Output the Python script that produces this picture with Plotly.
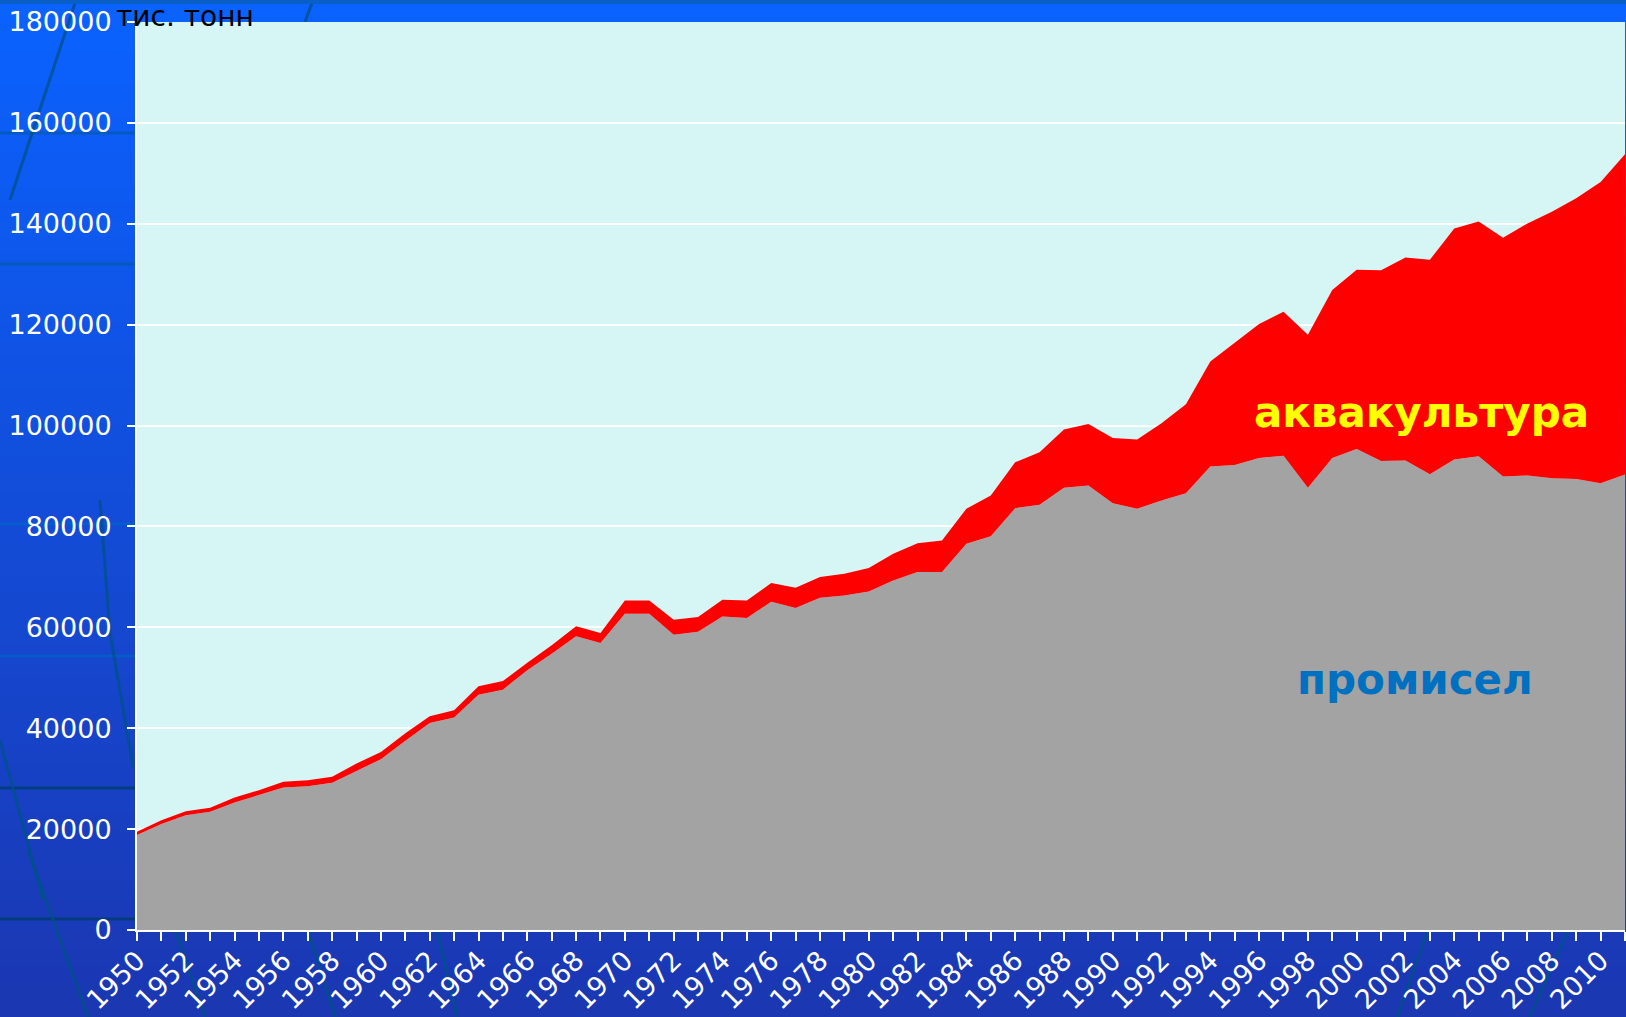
import plotly.graph_objects as go

years = list(range(1950, 2012))
capture = [18810, 20990, 22770, 23430, 25280, 26730, 28250, 28510, 29170, 31540,
           33860, 37500, 41050, 42110, 46660, 47650, 51480, 54780, 58210, 56890,
           62700, 62700, 58540, 59140, 62170, 61840, 65070, 63820, 65870, 66330,
           67120, 69300, 70980, 70950, 76560, 78080, 83620, 84280, 87650, 88110,
           84610, 83490, 85140, 86600, 91870, 92200, 93590, 93990, 87650, 93590,
           95370, 92990, 93060, 90350, 93260, 93920, 89890, 90090, 89560, 89430,
           88570, 90290]
aquaculture = [650, 790, 790, 790, 990, 990, 1120, 1190, 1190, 1460,
               1450, 1500, 1320, 1450, 1650, 1720, 1520, 1650, 1980, 1980,
               2640, 2640, 2970, 2900, 3290, 3500, 3700, 4030, 4090, 4290,
               4620, 5290, 5700, 6270, 6930, 8050, 9110, 10430, 11550, 12210,
               12940, 13730, 15310, 17600, 20850, 24290, 26530, 28570, 30360, 33260,
               35510, 37820, 40250, 42510, 45800, 46530, 47320, 49960, 52800, 55640,
               59730, 63500]
y_ticks = [0, 20000, 40000, 60000, 80000, 100000, 120000, 140000, 160000, 180000]
unit_label = "тис. тонн"
label_aqua = "аквакультура"
label_capture = "промисел"

W, H = 1626, 1017
L, R, T, B = 137, 1, 22, 87
PW, PH = W - L - R, H - T - B

def px(x):
    return (x - L) / PW

def py(y):
    return (H - B - y) / PH

fig = go.Figure()
fig.add_trace(go.Scatter(x=years, y=capture, stackgroup="s", mode="lines",
                         line=dict(width=0, color="#A3A3A3"), fillcolor="#A3A3A3",
                         name=label_capture))
fig.add_trace(go.Scatter(x=years, y=aquaculture, stackgroup="s", mode="lines",
                         line=dict(width=0, color="#FF0000"), fillcolor="#FF0000",
                         name=label_aqua))

shapes = []
# background gradient
n = 60
top = (10, 98, 255)
bot = (27, 55, 178)
for i in range(n):
    t = i / (n - 1)
    c = tuple(int(round(top[k] + (bot[k] - top[k]) * t)) for k in range(3))
    y0 = H * i / n
    y1 = H * (i + 1) / n + 1
    shapes.append(dict(type="rect", xref="paper", yref="paper",
                       x0=px(0), x1=px(W), y0=py(y1), y1=py(y0),
                       fillcolor="rgb(%d,%d,%d)" % c, line=dict(width=0), layer="below"))
# decorative globe lines
deco = "rgba(0,80,140,0.8)"
for yy, col in [(133, "rgba(0,90,170,0.7)"), (264, "rgba(0,90,170,0.7)"), (524, "rgba(0,100,200,0.7)"),
                (656, "rgba(0,100,200,0.7)"), (788, "rgba(0,60,110,0.8)"), (919, "rgba(0,60,110,0.8)")]:
    shapes.append(dict(type="line", xref="paper", yref="paper", x0=px(0), x1=px(L),
                       y0=py(yy), y1=py(yy), line=dict(color=col, width=3), layer="below"))
for (x0, y0, x1, y1) in [(28, 850, 88, 1017), (175, 930, 205, 1017), (308, 930, 335, 1017),
                         (437, 930, 457, 1017), (1428, 930, 1397, 1017), (1568, 930, 1530, 1017),
                         (75, 3, 10, 200), (313, 0, 305, 22), (100, 500, 110, 633),
                         (110, 633, 133, 767), (0, 740, 43, 900)]:
    shapes.append(dict(type="line", xref="paper", yref="paper", x0=px(x0), x1=px(x1),
                       y0=py(y0), y1=py(y1), line=dict(color=deco, width=3), layer="below"))
shapes.append(dict(type="rect", xref="paper", yref="paper", x0=px(0), x1=px(W),
                   y0=py(4), y1=py(0), fillcolor="#0A5EC8", line=dict(width=0), layer="below"))
# plot area background
shapes.append(dict(type="rect", xref="paper", yref="paper", x0=0, x1=1, y0=0, y1=1,
                   fillcolor="#D6F5F5", line=dict(width=0), layer="below"))

annotations = [
    dict(text=unit_label, xref="paper", yref="paper", x=px(114), y=py(16),
         xanchor="left", yanchor="middle", showarrow=False,
         font=dict(family="DejaVu Sans", size=28, color="black")),
    dict(text="<b>%s</b>" % label_aqua, xref="paper", yref="paper", x=px(1421), y=py(413),
         xanchor="center", yanchor="middle", showarrow=False,
         font=dict(family="DejaVu Sans", size=42, color="#FFFF00")),
    dict(text="<b>%s</b>" % label_capture, xref="paper", yref="paper", x=px(1415), y=py(679),
         xanchor="center", yanchor="middle", showarrow=False,
         font=dict(family="DejaVu Sans", size=42, color="#0070C0")),
]

fig.update_layout(
    width=W, height=H,
    margin=dict(l=L, r=R, t=T, b=B, pad=0, autoexpand=False),
    paper_bgcolor="rgb(20,75,215)",
    plot_bgcolor="#D6F5F5",
    showlegend=False,
    shapes=shapes,
    annotations=annotations,
    font=dict(family="DejaVu Sans", color="white", size=25),
)
fig.update_xaxes(range=[1950, 2011], tick0=1950, dtick=2, tickangle=-45,
                 ticks="outside", ticklen=9, tickwidth=2, tickcolor="white",
                 minor=dict(dtick=1, ticks="outside", ticklen=9, tickwidth=2, tickcolor="white"),
                 showline=True, linecolor="white", linewidth=2, showgrid=False,
                 zeroline=False, tickfont=dict(size=27, color="white"),
                 ticklabelstandoff=-7, automargin=False)
fig.update_yaxes(range=[0, 180000], tickvals=y_ticks, tickformat="d",
                 ticks="outside", ticklen=8, tickwidth=2, tickcolor="white",
                 showline=True, linecolor="white", linewidth=2,
                 showgrid=True, gridcolor="white", gridwidth=2, zeroline=False,
                 tickfont=dict(size=27, color="white"), ticklabelstandoff=10,
                 automargin=False)

fig.write_html("out.html", config={"displayModeBar": False},
               post_script="document.body.style.margin='0';document.body.style.overflow='hidden';")
